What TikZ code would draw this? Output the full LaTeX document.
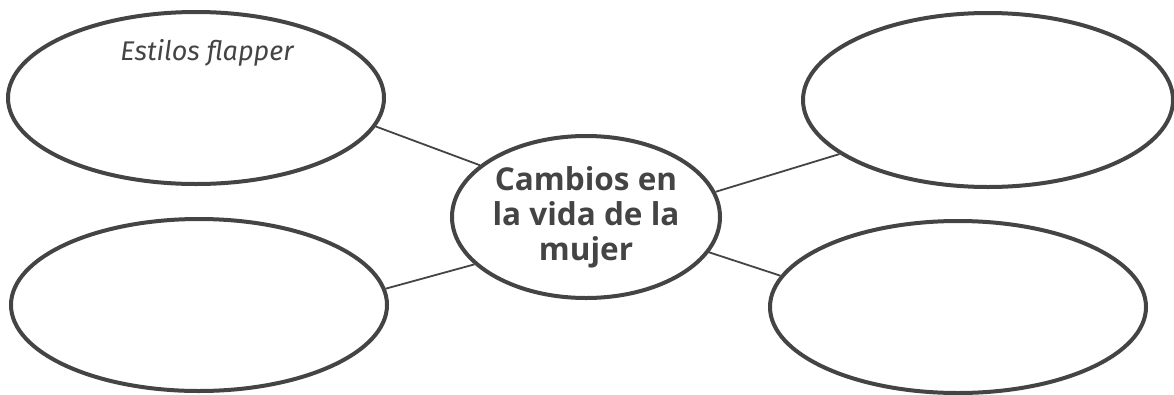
\documentclass[tikz,border=0pt]{standalone}
\usepackage{fontspec}
\usepackage{tikz}
\usetikzlibrary{shapes.geometric}
\usetikzlibrary{positioning}
\newfontfamily\boldsans{Open Sans Bold}
\newfontfamily\handfont{Fira Sans Italic}
\definecolor{inkgray}{HTML}{444444}

\begin{document}
\begin{tikzpicture}[
  x=1pt, y=-1pt,
  bubble/.style = {draw=inkgray, line width=4pt, ellipse, inner sep=0pt,
                   minimum width=376pt, minimum height=172pt},
  hub/.style = {draw=inkgray, line width=4pt, ellipse, inner sep=0pt,
                minimum width=268pt, minimum height=162pt,
                align=center, text=inkgray,
                font=\boldsans\fontsize{31.5}{35}\selectfont},
  spoke/.style = {draw=inkgray, line width=1.8pt},
  hand/.style = {text=inkgray, inner sep=0pt, font=\handfont\fontsize{27}{30}\selectfont}
  ]
	\useasboundingbox (0,0) rectangle (1174,394);

	\node[hub] (mujer) at (586,217) {Cambios en\\la vida de la\\mujer};

	\node[bubble] (estilos) at (196,98) {};
	\node[bubble] (izqabajo) at (199,305) {};
	\node[bubble, minimum width=370pt, minimum height=174pt] (derarriba) at (988,100) {};
	\node[bubble] (derabajo) at (958,307) {};

	\node[hand] (estilostxt) at (207,53) {Estilos flapper};

	\draw[spoke] (mujer.154) -- (estilos.-9);
	\draw[spoke] (mujer.203) -- (izqabajo.5);
	\draw[spoke] (mujer.11) -- (derarriba.200);
	\draw[spoke] (mujer.-16) -- (derabajo.170);

\end{tikzpicture}
\end{document}
